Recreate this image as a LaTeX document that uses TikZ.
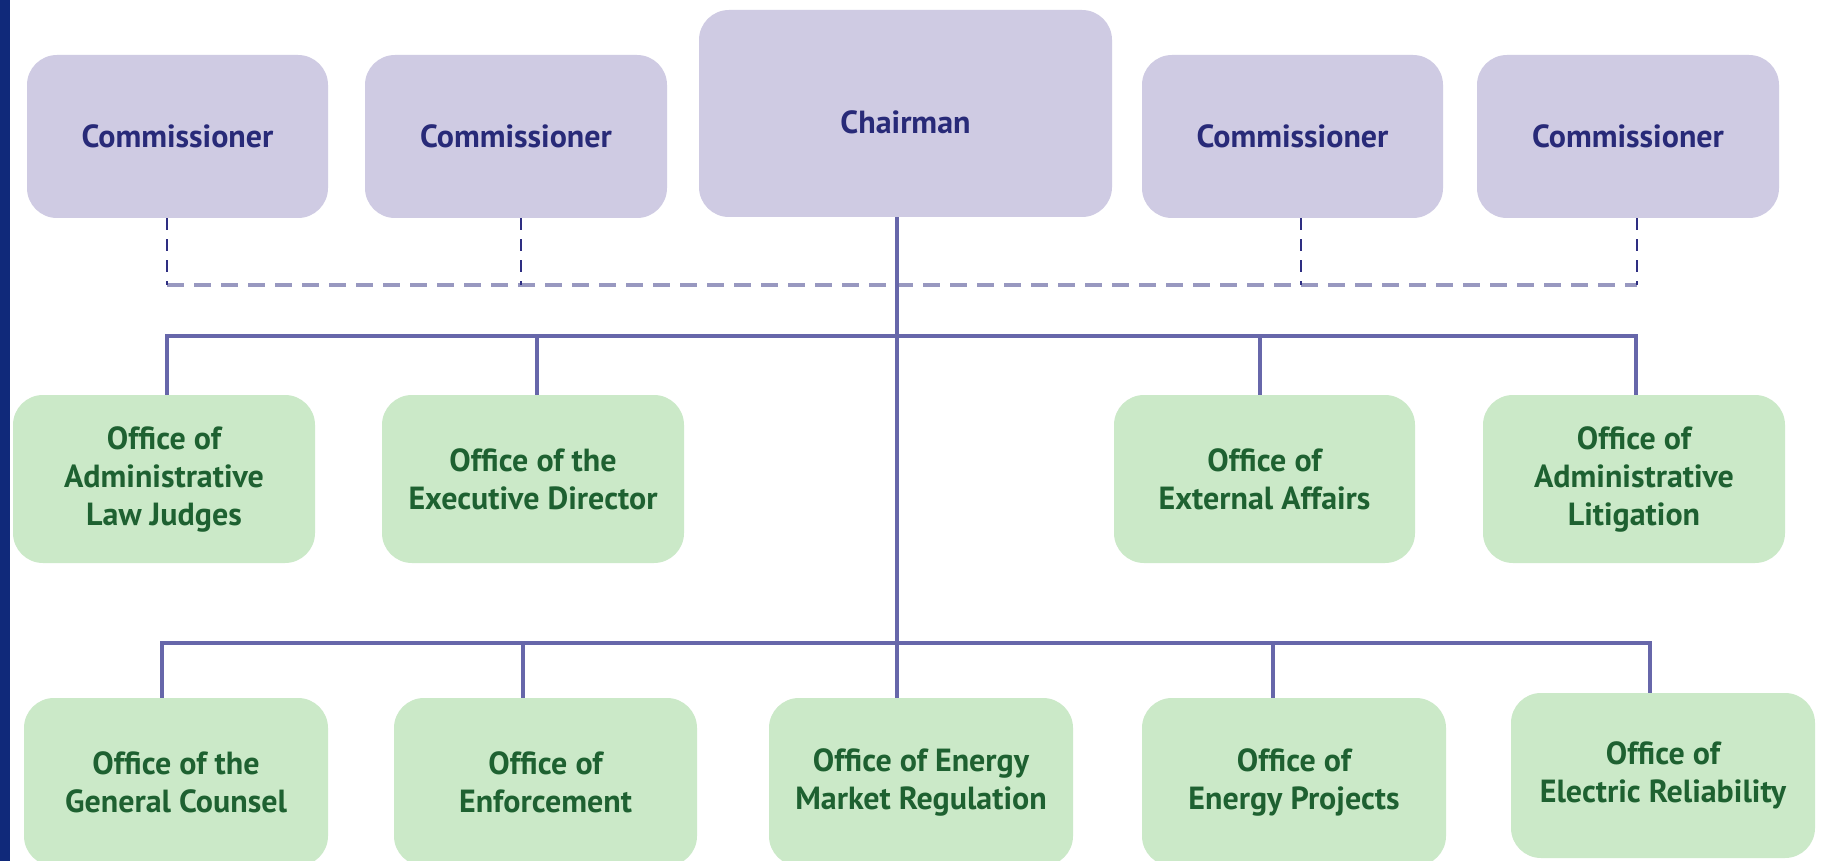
\documentclass[tikz,border=0pt]{standalone}
\usepackage{fontspec}
\setmainfont{PT Sans}
\usetikzlibrary{positioning}
\definecolor{boardfill}{HTML}{CFCBE3}
\definecolor{boardtext}{HTML}{282A78}
\definecolor{officefill}{HTML}{CBE9C8}
\definecolor{officetext}{HTML}{1E6131}
\definecolor{linkcol}{HTML}{6767AA}
\definecolor{dashcol}{HTML}{9898C0}
\definecolor{dashdark}{HTML}{2E2E82}
\definecolor{edgecol}{HTML}{10297A}
\tikzset{
  box/.style={rectangle, rounded corners=30pt, inner sep=0pt, align=center,
    font=\bfseries\fontsize{32}{38}\selectfont},
  board/.style={box, fill=boardfill, text=boardtext,
    minimum width=301pt, minimum height=163pt},
  office/.style={box, fill=officefill, text=officetext,
    minimum width=303pt, minimum height=168pt},
  link/.style={draw=linkcol, line width=3.5pt},
  dashlink/.style={draw=dashcol, line width=4pt, dash pattern=on 17pt off 10pt},
  dashdrop/.style={draw=dashdark, line width=2.5pt, dash pattern=on 12pt off 9pt}
}
\begin{document}
\begin{tikzpicture}[x=1pt, y=-1pt]
  % page and left edge band
  \fill[white] (0,0) rectangle (1828,861);
  \useasboundingbox (0,0) rectangle (1828,861);

  % commission
  \node[board] (c1) at (177.5,136.5) {Commissioner};
  \node[board, minimum width=302pt] (c2) at (516,136.5) {Commissioner};
  \node[board, minimum width=413pt, minimum height=207pt] (chair) at (905.5,113.5)
    {\raisebox{-20pt}[0pt][0pt]{Chairman}};
  \node[board] (c3) at (1292.5,136.5) {Commissioner};
  \node[board, minimum width=302pt] (c4) at (1628,136.5) {Commissioner};

  % offices, first row
  \node[office, minimum width=302pt] (alj) at (164,479) {Office of\\Administrative\\Law Judges};
  \node[office, minimum width=302pt] (exec) at (533,479) {Office of the\\Executive Director};
  \node[office, minimum width=301pt] (ext) at (1264.5,479) {Office of\\External Affairs};
  \node[office, minimum width=302pt] (lit) at (1634,479) {Office of\\Administrative\\Litigation};

  % offices, second row
  \node[office, minimum width=304pt] (gc) at (176,782) {Office of the\\General Counsel};
  \node[office] (enf) at (545.5,782) {Office of\\Enforcement};
  \node[office, minimum width=304pt] (emr) at (921,782) {Office of Energy\\Market Regulation};
  \node[office, minimum width=304pt] (ep) at (1294,782) {Office of\\Energy Projects};
  \node[office, minimum width=304pt, minimum height=165pt] (er) at (1663,775.5) {Office of\\Electric Reliability};

  % commissioners' dashed tie
  \coordinate (t1) at ([xshift=-10.5pt,yshift=-67pt]c1.south);
  \coordinate (t4) at ([xshift=9pt,yshift=-67pt]c4.south);
  \draw[dashlink] (t1) -- (t4);
  \draw[dashdrop] ([xshift=-10.5pt]c1.south) -- (t1);
  \draw[dashdrop] ([xshift=5pt]c2.south) -- ++(0,67);
  \draw[dashdrop] ([xshift=8.5pt]c3.south) -- ++(0,67);
  \draw[dashdrop] ([xshift=9pt]c4.south) -- (t4);

  % first office bus
  \draw[link] ([xshift=3pt]alj.north) -- ++(0,-59) -| ([xshift=2pt]lit.north);
  \draw[link] ([xshift=4pt]exec.north) -- ++(0,-59);
  \draw[link] ([xshift=-4.5pt]ext.north) -- ++(0,-59);

  % second office bus
  \draw[link] ([xshift=-14pt]gc.north) -- ++(0,-55) -| ([xshift=-13pt]er.north);
  \draw[link] ([xshift=-22.5pt]enf.north) -- ++(0,-55);
  \draw[link] ([xshift=-21pt]ep.north) -- ++(0,-55);

  % chairman trunk
  \draw[link] ([xshift=-8.5pt]chair.south) -- ([xshift=-24pt]emr.north);

  \fill[edgecol] (0,0) rectangle (10,861);
\end{tikzpicture}
\end{document}
